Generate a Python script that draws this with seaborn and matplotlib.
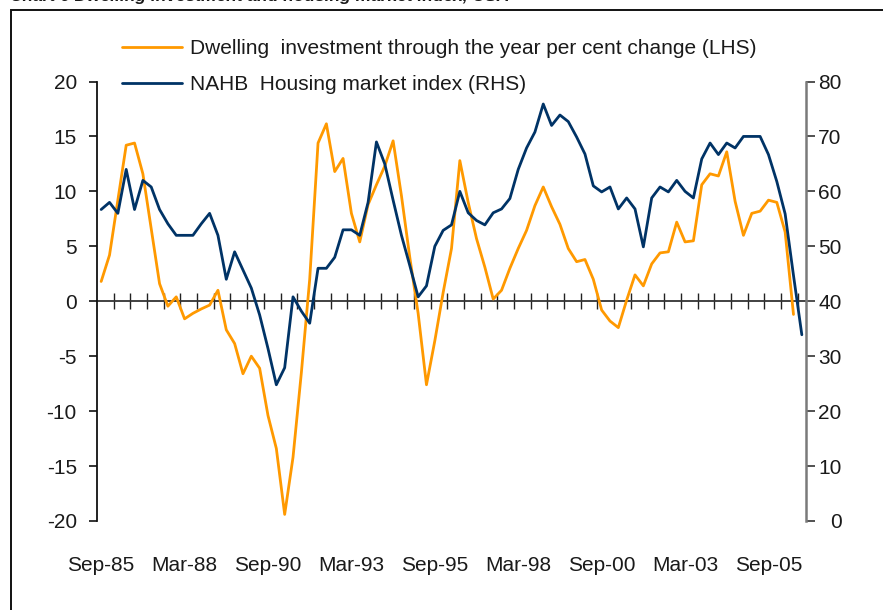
import numpy as np
import pandas as pd
import matplotlib
matplotlib.use("Agg")
import matplotlib.pyplot as plt
from matplotlib.patches import Rectangle
import seaborn as sns

# ---------------- data ----------------
x_labels = ["Sep-85", "Mar-88", "Sep-90", "Mar-93", "Sep-95",
            "Mar-98", "Sep-00", "Mar-03", "Sep-05"]
label_step = 10  # quarters between x labels

dwelling = [1.8, 4.2, 9.2, 14.2, 14.4, 11.6, 6.6, 1.6, -0.45, 0.4,
            -1.6, -1.1, -0.7, -0.35, 1.0, -2.6, -3.85, -6.6, -5.0, -6.1,
            -10.4, -13.4, -19.4, -14.2, -6.5, 2.0, 14.4, 16.15, 11.8, 13.0,
            8.0, 5.4, 8.8, 10.6, 12.3, 14.6, 9.6, 4.0, -1.1, -7.6,
            -3.6, 0.8, 4.8, 12.8, 9.0, 5.7, 3.1, 0.2, 1.0, 3.0,
            4.8, 6.45, 8.7, 10.4, 8.6, 7.0, 4.8, 3.6, 3.8, 2.0,
            -0.8, -1.8, -2.4, 0.1, 2.4, 1.4, 3.4, 4.4, 4.5, 7.2,
            5.4, 5.5, 10.6, 11.6, 11.4, 13.6, 9.1, 6.0, 8.0, 8.2,
            9.2, 9.0, 6.3, -1.2]

nahb = [56.7, 58.0, 56.0, 64.0, 56.7, 62.0, 60.8, 56.7, 54.1, 52.0,
        52.0, 52.0, 54.1, 56.0, 52.0, 44.0, 49.0, 45.7, 42.4, 37.5,
        31.4, 24.8, 27.9, 40.8, 38.2, 36.0, 46.0, 46.0, 48.0, 53.0,
        53.0, 52.0, 58.0, 69.0, 65.0, 58.4, 52.0, 46.5, 40.8, 42.8,
        50.0, 52.9, 53.9, 60.0, 56.1, 54.7, 53.9, 56.1, 56.8, 58.7,
        64.0, 67.9, 70.8, 75.9, 72.0, 73.9, 72.7, 69.9, 66.8, 61.0,
        59.9, 60.8, 56.8, 58.8, 56.8, 49.9, 58.8, 60.8, 59.9, 62.0,
        60.0, 58.8, 65.9, 68.8, 66.7, 68.8, 67.9, 70.0, 70.0, 70.0,
        66.7, 61.8, 55.9, 44.7, 33.9]

series_names = ["Dwelling  investment through the year per cent change (LHS)",
                "NAHB  Housing market index (RHS)"]
title = "Chart 6 Dwelling investment and housing market index, USA"

df_dw = pd.DataFrame({"q": np.arange(len(dwelling)), "v": dwelling})
df_nahb = pd.DataFrame({"q": np.arange(len(nahb)), "v": nahb})

# ---------------- style ----------------
sns.set_theme(style="white")
plt.rcParams["font.family"] = ["Liberation Sans", "DejaVu Sans"]
plt.rcParams["axes.unicode_minus"] = False
FS = 15
ORANGE = "#FF9900"
NAVY = "#003366"
TXT = "#1a1a1a"

W, H = 883, 610
fig = plt.figure(figsize=(W / 100, H / 100), dpi=100)
fig.patch.set_facecolor("white")

# outer frame and (cut-off) title
fig.add_artist(Rectangle((10.5 / W, -0.05), 1.2, 1.05 - 9.5 / H,
                         transform=fig.transFigure, fill=False,
                         edgecolor="#111111", lw=1.4))
fig.text(10 / W, 1 - 1 / H, title, fontsize=12.5, fontweight="bold",
         fontstyle="italic", va="baseline", ha="left", color=TXT)

left, right, top, bottom = 97, 806, 81.5, 521
ax = fig.add_axes([left / W, 1 - bottom / H, (right - left) / W, (bottom - top) / H])
ax2 = ax.twinx()

sns.lineplot(data=df_dw, x="q", y="v", ax=ax, color=ORANGE, lw=2.0,
             label=series_names[0])
sns.lineplot(data=df_nahb, x="q", y="v", ax=ax2, color=NAVY, lw=2.0,
             label=series_names[1])

h1, l1 = ax.get_legend_handles_labels()
h2, l2 = ax2.get_legend_handles_labels()
for a in (ax, ax2):
    if a.get_legend() is not None:
        a.get_legend().remove()

n = len(nahb)
ax.set_xlim(-0.5, n - 0.5)
ax.set_ylim(-20, 20)
ax2.set_ylim(0, 80)
ax.set_facecolor("none")
ax2.set_facecolor("none")
ax.set_xlabel("")
ax.set_ylabel("")
ax2.set_ylabel("")

# spines
for s in ("top", "bottom", "right"):
    ax.spines[s].set_visible(False)
for s in ("top", "bottom", "left"):
    ax2.spines[s].set_visible(False)
ax.spines["left"].set_color("#111111")
ax.spines["left"].set_linewidth(1.3)
ax2.spines["right"].set_color("#7a7a7a")
ax2.spines["right"].set_linewidth(1.8)

# left y axis
ax.set_yticks(np.arange(-20, 21, 5))
ax.tick_params(axis="y", which="major", left=True, direction="out", length=5.5,
               width=1.2, color="#111111", labelsize=FS, labelcolor=TXT, pad=9)
# right y axis (labels right aligned)
ax2.set_yticks(np.arange(0, 81, 10))
ax2.tick_params(axis="y", which="major", right=True, direction="out", length=6.5,
                width=1.2, color="#333333", labelsize=FS, labelcolor=TXT, pad=19)
for t in ax2.get_yticklabels():
    t.set_horizontalalignment("right")

# x labels at bottom
ax.set_xticks(np.arange(len(x_labels)) * label_step, x_labels)
ax.tick_params(axis="x", which="major", bottom=True, length=0, labelsize=FS,
               labelcolor=TXT, pad=25)

# zero line with tick marks every 2 quarters
sec = ax.secondary_xaxis(0.5)
sec.set_xticks(np.arange(1.5, n - 0.5 + 0.01, 2))
sec.tick_params(axis="x", direction="inout", length=11, width=1.0,
                color="#222222", labeltop=False, labelbottom=False,
                top=True, bottom=False)
for s in sec.spines.values():
    s.set_color("#333333")
    s.set_linewidth(1.3)

ax.grid(False)
ax2.grid(False)
ax2.set_zorder(ax.get_zorder() + 1)

leg = ax2.legend(h1 + h2, l1 + l2, loc="upper left",
                 bbox_to_anchor=(122 / W, 1 - 39 / H), bbox_transform=fig.transFigure,
                 frameon=False, fontsize=FS, handlelength=2.9, handletextpad=0.35,
                 borderpad=0, borderaxespad=0, labelspacing=0.82)
for t in leg.get_texts():
    t.set_color(TXT)

fig.savefig("out.png", dpi=100, facecolor="white")
